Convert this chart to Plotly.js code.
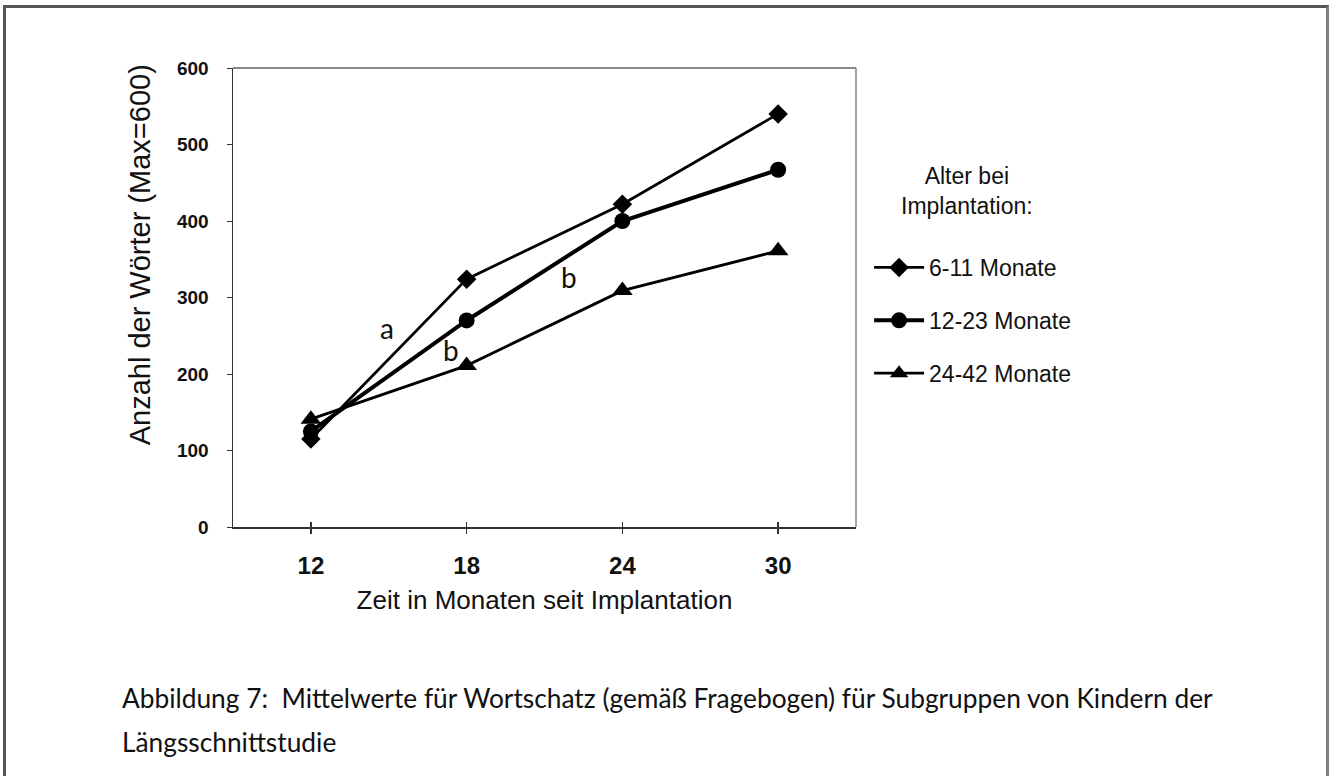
<!DOCTYPE html>
<html>
<head>
<meta charset="utf-8">
<script src="https://cdn.plot.ly/plotly-3.0.1.min.js"></script>
<style>
html,body{margin:0;padding:0;background:#fff;}
#wrap{position:relative;width:1333px;height:776px;overflow:hidden;}
#frame{position:absolute;left:3px;top:5px;width:1326px;height:800px;border-left:3px solid #555;border-top:3px solid #555;border-right:3px solid #808080;box-sizing:border-box;pointer-events:none;z-index:5;}
#chart{position:absolute;left:0;top:0;width:1333px;height:776px;}
</style>
</head>
<body>
<div id="wrap"><div id="chart"></div><div id="frame"></div></div>
<script>
const months = [12, 18, 24, 30];
const seriesNames = ["6-11 Monate", "12-23 Monate", "24-42 Monate"];
const vals611 = [115, 324, 422, 540];
const vals1223 = [125, 270, 400, 467];
const vals2442 = [141, 211, 309, 361];
const yTicks = [0, 100, 200, 300, 400, 500, 600];
const xTickLabels = ["12", "18", "24", "30"];
const legendTitle = "Alter bei<br>Implantation:";
const xTitle = "Zeit in Monaten seit Implantation";
const yTitle = "Anzahl der Wörter (Max=600)";
const caption1 = "Abbildung 7:  Mittelwerte für Wortschatz (gemäß Fragebogen) für Subgruppen von Kindern der";
const caption2 = "Längsschnittstudie";
const letterLabels = [
  {text: "a", x: 14.93, y: 260},
  {text: "b", x: 17.40, y: 231},
  {text: "b", x: 21.94, y: 327}
];

const ARIAL = "Liberation Sans, Arial, sans-serif";
const CAL = "Lato, Carlito, Open Sans, sans-serif";

const traces = [
  {x: months, y: vals611, name: seriesNames[0], legendgroup: "g1", mode: "lines+markers",
   line: {color: "#000", width: 2.8}, marker: {symbol: "diamond", size: 15, color: "#000"}},
  {x: months, y: vals1223, name: seriesNames[1], legendgroup: "g2", mode: "lines+markers",
   line: {color: "#000", width: 4}, marker: {symbol: "circle", size: 16, color: "#000"}},
  {x: months, y: vals2442, name: seriesNames[2], legendgroup: "g3", mode: "lines+markers",
   line: {color: "#000", width: 2.8}, marker: {symbol: "triangle-up", size: 18, color: "#000"}},
  {x: [], y: [], xaxis: "x2", yaxis: "y", showlegend: false, hoverinfo: "skip"}
];

const annotations = letterLabels.map(l => ({
  text: l.text, x: l.x, y: l.y, xref: "x", yref: "y", showarrow: false,
  font: {family: CAL, size: 28, color: "#111"}
}));
annotations.push({text: legendTitle, xref: "paper", yref: "paper", x: 1.178, y: 0.732,
  xanchor: "center", yanchor: "middle", showarrow: false, align: "center",
  font: {family: ARIAL, size: 23, color: "#111"}});
annotations.push({text: yTitle, xref: "paper", yref: "paper", x: -0.1493, y: 0.594,
  xanchor: "center", yanchor: "middle", textangle: -90, showarrow: false,
  font: {family: ARIAL, size: 29, color: "#111"}});
annotations.push({text: caption1, xref: "paper", yref: "paper", x: -0.1814, y: -0.3725,
  xanchor: "left", yanchor: "middle", showarrow: false, align: "left",
  font: {family: CAL, size: 26.3, color: "#111"}});
annotations.push({text: caption2, xref: "paper", yref: "paper", x: -0.1814, y: -0.468,
  xanchor: "left", yanchor: "middle", showarrow: false, align: "left",
  font: {family: CAL, size: 26.3, color: "#111"}});

const layout = {
  width: 1333, height: 776,
  margin: {l: 233, r: 477, t: 68, b: 249},
  paper_bgcolor: "#fff", plot_bgcolor: "#fff",
  showlegend: true,
  legend: {x: 1.021, xanchor: "left", y: 0.45, yanchor: "middle", tracegroupgap: 20,
    itemwidth: 50,
    font: {family: ARIAL, size: 23, color: "#111"}, bgcolor: "rgba(0,0,0,0)"},
  xaxis: {range: [9, 33], tickvals: months, ticktext: xTickLabels, showgrid: false, zeroline: false,
    showline: true, linecolor: "#333", linewidth: 1.5, ticks: "outside", ticklen: 5, tickcolor: "#333", tickwidth: 1.3,
    ticklabelstandoff: 12,
    tickfont: {family: ARIAL, size: 24, color: "#111", weight: "bold"},
    title: {text: xTitle, font: {family: ARIAL, size: 26, color: "#111"}, standoff: 12}},
  xaxis2: {range: [9, 33], overlaying: "x", anchor: "y", tickvals: months, showticklabels: false,
    showgrid: false, zeroline: false, showline: false, ticks: "inside", ticklen: 5, tickcolor: "#333", tickwidth: 1.3},
  yaxis: {range: [0, 600], tickvals: yTicks, showgrid: false, zeroline: false,
    showline: true, linecolor: "#333", linewidth: 1.5, ticks: "outside", ticklen: 5, tickcolor: "#333",
    ticklabelstandoff: 14,
    tickfont: {family: ARIAL, size: 19, color: "#111", weight: "bold"}},
  shapes: [
    {type: "line", xref: "paper", yref: "paper", x0: 0, x1: 1, y0: 1, y1: 1, line: {color: "#888", width: 2}},
    {type: "line", xref: "paper", yref: "paper", x0: 1, x1: 1, y0: 0, y1: 1, line: {color: "#888", width: 1.5}}
  ],
  annotations: annotations
};

Plotly.newPlot("chart", traces, layout, {displayModeBar: false, staticPlot: true});
</script>
</body>
</html>
